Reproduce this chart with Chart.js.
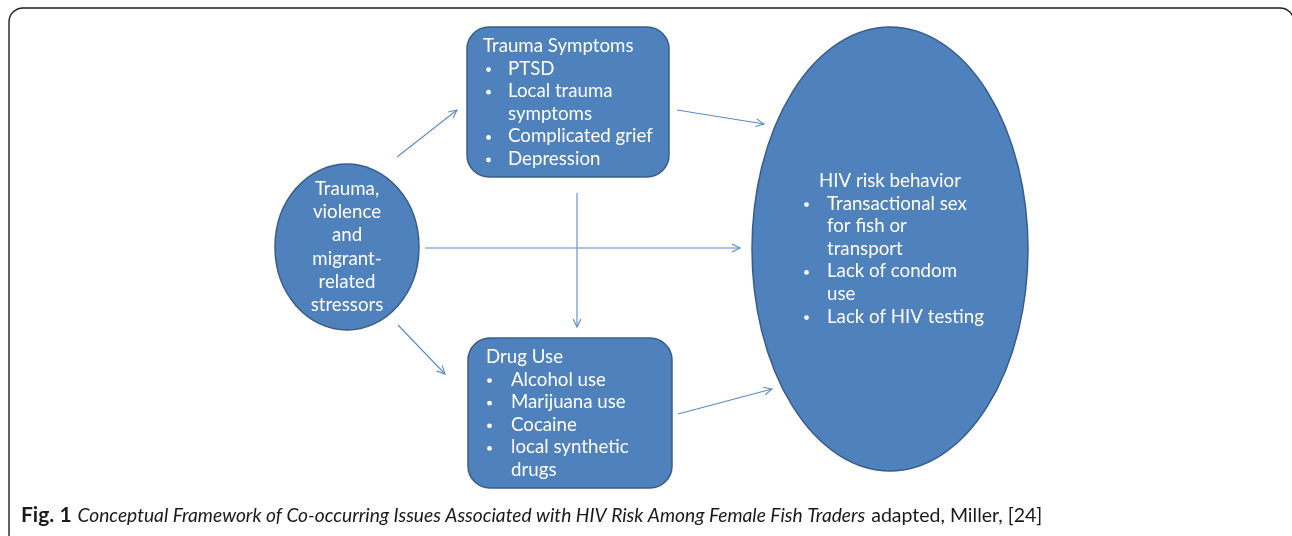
<!DOCTYPE html>
<html>
<head>
<meta charset="utf-8">
<script src="https://cdn.jsdelivr.net/npm/chart.js@4.4.1/dist/chart.umd.min.js"></script>
<style>
  html, body { margin: 0; padding: 0; background: #fff; }
  #wrap { width: 1292px; height: 536px; position: relative; }
</style>
</head>
<body>
<div id="wrap"><canvas id="diagram" width="1292" height="536"></canvas></div>
<script>
// Textos del diagrama
const stressorLines = ["Trauma,", "violence", "and", "migrant-", "related", "stressors"];
const traumaTitle = "Trauma Symptoms";
const traumaItems = [["PTSD"], ["Local trauma", "symptoms"], ["Complicated grief"], ["Depression"]];
const drugTitle = "Drug Use";
const drugItems = [["Alcohol use"], ["Marijuana use"], ["Cocaine"], ["local synthetic", "drugs"]];
const hivTitle = "HIV risk behavior";
const hivItems = [["Transactional sex", "for fish or", "transport"], ["Lack of condom", "use"], ["Lack of HIV testing"]];
const captionBold = "Fig. 1";
const captionItalic = "Conceptual Framework of Co-occurring Issues Associated with HIV Risk Among Female Fish Traders";
const captionPlain = "adapted, Miller, [24]";

// Conexiones (origen -> destino)
const links = [
  ["stressors", "trauma"],
  ["stressors", "hiv"],
  ["trauma", "drug"],
  ["stressors", "drug"],
  ["trauma", "hiv"],
  ["drug", "hiv"],
];

// Layout (coordenadas del diagrama, 0..1292 x 0..536)
const layout = {
  stressors: { shape: "ellipse", cx: 347, cy: 247, rx: 72, ry: 83 },
  trauma: { shape: "box", x: 467, y: 27, w: 202, h: 150, r: 22 },
  drug: { shape: "box", x: 468, y: 338, w: 204, h: 150, r: 22 },
  hiv: { shape: "ellipse", cx: 890, cy: 249, rx: 138, ry: 222 },
};
const arrowEnds = {
  "stressors-trauma": [[397, 157], [457, 110]],
  "stressors-hiv": [[425, 248], [740, 248]],
  "trauma-drug": [[577, 193], [577, 327]],
  "stressors-drug": [[398, 325], [445, 374]],
  "trauma-hiv": [[677, 110], [764, 124]],
  "drug-hiv": [[678, 414], [772, 389]],
};

const FILL = "#4f81bd";
const STROKE = "#385d8a";
const ARROW = "#5b8bc8";
const FONT = "Lato, 'Open Sans', sans-serif";
const SIZE = 18.7;
const LINE = 22.6;

const datasets = links.map(([a, b]) => {
  const [p, q] = arrowEnds[a + "-" + b];
  return {
    label: a + " → " + b,
    data: [{ x: p[0], y: p[1] }, { x: q[0], y: q[1] }],
    showLine: true,
    borderColor: ARROW,
    borderWidth: 1.1,
    pointRadius: 0,
    fill: false,
  };
});

function px(chart, x, y) {
  return [chart.scales.x.getPixelForValue(x), chart.scales.y.getPixelForValue(y)];
}

function roundRect(ctx, x, y, w, h, r) {
  ctx.beginPath();
  ctx.moveTo(x + r, y);
  ctx.arcTo(x + w, y, x + w, y + h, r);
  ctx.arcTo(x + w, y + h, x, y + h, r);
  ctx.arcTo(x, y + h, x, y, r);
  ctx.arcTo(x, y, x + w, y, r);
  ctx.closePath();
}

function drawList(ctx, chart, title, items, tx, bx, ix, y0) {
  ctx.fillStyle = "#fff";
  ctx.font = SIZE + "px " + FONT;
  ctx.textBaseline = "middle";
  ctx.textAlign = "left";
  let [x, y] = px(chart, tx, y0);
  ctx.fillText(title, x, y);
  let row = 1;
  items.forEach((lines) => {
    lines.forEach((t, i) => {
      const [bxp, yy] = px(chart, bx, y0 + row * LINE);
      const [ixp] = px(chart, ix, 0);
      if (i === 0) {
        ctx.beginPath();
        ctx.arc(bxp + 2.5, yy + 1, 2.4, 0, Math.PI * 2);
        ctx.fill();
      }
      ctx.fillText(t, ixp, yy);
      row++;
    });
  });
}

const diagramPlugin = {
  id: "diagram",
  beforeDatasetsDraw(chart) {
    const ctx = chart.ctx;
    ctx.save();
    // marco exterior
    ctx.strokeStyle = "#222";
    ctx.lineWidth = 1.4;
    const [fx, fy] = px(chart, 9, 8);
    roundRect(ctx, fx, fy, 1285, 540, 14);
    ctx.stroke();

    Object.values(layout).forEach((n) => {
      ctx.fillStyle = FILL;
      ctx.strokeStyle = STROKE;
      ctx.lineWidth = 1.5;
      if (n.shape === "ellipse") {
        const [cx, cy] = px(chart, n.cx, n.cy);
        ctx.beginPath();
        ctx.ellipse(cx, cy, n.rx, n.ry, 0, 0, Math.PI * 2);
      } else {
        const [x, y] = px(chart, n.x, n.y);
        roundRect(ctx, x, y, n.w, n.h, n.r);
      }
      ctx.fill();
      ctx.stroke();
    });

    // textos
    ctx.fillStyle = "#fff";
    ctx.font = SIZE + "px " + FONT;
    ctx.textAlign = "center";
    ctx.textBaseline = "middle";
    stressorLines.forEach((t, i) => {
      const [x, y] = px(chart, layout.stressors.cx, 189 + i * 23.2);
      ctx.fillText(t, x, y);
    });
    drawList(ctx, chart, traumaTitle, traumaItems, 483, 486, 508, 46);
    drawList(ctx, chart, drugTitle, drugItems, 486, 487, 511, 357);
    drawList(ctx, chart, hivTitle, hivItems, 819, 804, 827, 181);

    // pie de figura
    ctx.fillStyle = "#1a1a1a";
    ctx.textAlign = "left";
    ctx.textBaseline = "alphabetic";
    let [cx, cy] = px(chart, 21, 522);
    ctx.font = "bold 21px " + FONT;
    ctx.fillText(captionBold, cx, cy);
    cx += ctx.measureText(captionBold).width + 6;
    ctx.font = "italic 19.2px " + FONT;
    ctx.fillText(captionItalic, cx, cy);
    cx += ctx.measureText(captionItalic).width + 6;
    ctx.font = "19.5px " + FONT;
    ctx.fillText(captionPlain, cx, cy);
    ctx.restore();
  },
  afterDatasetsDraw(chart) {
    const ctx = chart.ctx;
    ctx.save();
    ctx.strokeStyle = ARROW;
    ctx.lineWidth = 1.1;
    chart.data.datasets.forEach((ds) => {
      const p = ds.data[0], q = ds.data[1];
      const [x1, y1] = px(chart, p.x, p.y);
      const [x2, y2] = px(chart, q.x, q.y);
      const a = Math.atan2(y2 - y1, x2 - x1);
      const L = 9, s = 0.45;
      ctx.beginPath();
      ctx.moveTo(x2 - L * Math.cos(a - s), y2 - L * Math.sin(a - s));
      ctx.lineTo(x2, y2);
      ctx.lineTo(x2 - L * Math.cos(a + s), y2 - L * Math.sin(a + s));
      ctx.stroke();
    });
    ctx.restore();
  },
};

new Chart(document.getElementById("diagram"), {
  type: "scatter",
  data: { datasets },
  options: {
    responsive: false,
    animation: false,
    devicePixelRatio: 1,
    layout: { padding: 0 },
    plugins: { legend: { display: false }, tooltip: { enabled: false }, title: { display: false } },
    scales: {
      x: { type: "linear", min: 0, max: 1292, display: false },
      y: { type: "linear", min: 0, max: 536, reverse: true, display: false },
    },
  },
  plugins: [diagramPlugin],
});
</script>
</body>
</html>
